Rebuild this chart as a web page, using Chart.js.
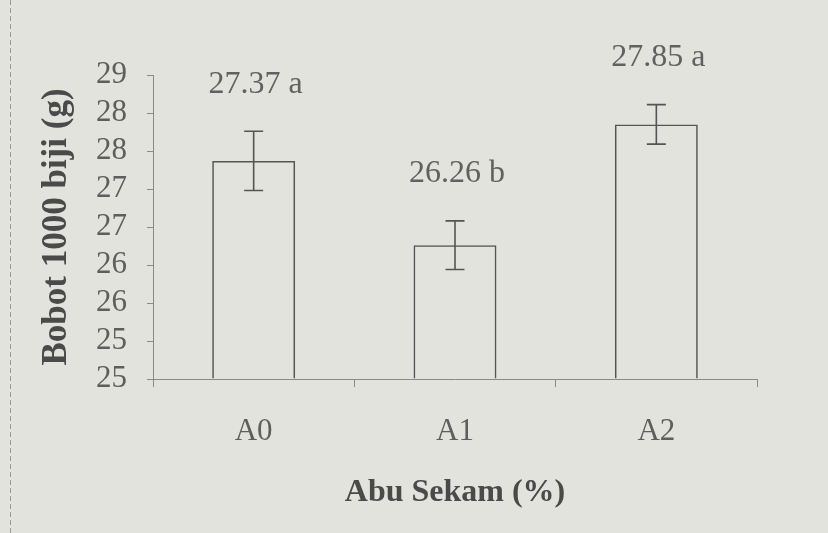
<!DOCTYPE html>
<html>
<head>
<meta charset="utf-8">
<script src="https://cdn.jsdelivr.net/npm/chart.js@4/dist/chart.umd.min.js"></script>
<style>
  html, body { margin: 0; padding: 0; background: #e3e3de; }
  #wrap { width: 828px; height: 533px; position: relative; }
</style>
</head>
<body>
<div id="wrap"><canvas id="c" width="828" height="533"></canvas></div>
<script>
const categories = ['A0', 'A1', 'A2'];
const bobotValues = [27.37, 26.26, 27.85];
const errorValues = [0.39, 0.32, 0.26];
const valueLabels = ['27.37 a', '26.26 b', '27.85 a'];
const yTickLabels = ['25', '25', '26', '26', '27', '27', '28', '28', '29'];
const yMin = 24.5, yMax = 28.5, yStep = 0.5;

const serif = '"Liberation Serif", "Times New Roman", serif';

const pageBorder = {
  id: 'pageBorder',
  beforeDraw(chart) {
    const ctx = chart.ctx;
    ctx.save();
    ctx.fillStyle = '#e3e3de';
    ctx.fillRect(0, 0, chart.width, chart.height);
    ctx.strokeStyle = '#9a9a96';
    ctx.lineWidth = 1;
    ctx.setLineDash([5, 3]);
    ctx.beginPath();
    ctx.moveTo(10.5, 0);
    ctx.lineTo(10.5, chart.height);
    ctx.stroke();
    ctx.restore();
  }
};

const errorBarsAndLabels = {
  id: 'errorBarsAndLabels',
  afterDatasetsDraw(chart) {
    const ctx = chart.ctx;
    const meta = chart.getDatasetMeta(0);
    const y = chart.scales.y;
    ctx.save();
    ctx.strokeStyle = '#545454';
    ctx.lineWidth = 1.6;
    meta.data.forEach((bar, i) => {
      const v = bobotValues[i], e = errorValues[i];
      const top = y.getPixelForValue(v + e);
      const bot = y.getPixelForValue(v - e);
      const x = bar.x;
      const cap = 9.5;
      ctx.beginPath();
      ctx.moveTo(x, top); ctx.lineTo(x, bot);
      ctx.moveTo(x - cap, top); ctx.lineTo(x + cap, top);
      ctx.moveTo(x - cap, bot); ctx.lineTo(x + cap, bot);
      ctx.stroke();
      ctx.fillStyle = '#616161';
      ctx.font = '32px ' + serif;
      ctx.textAlign = 'center';
      ctx.textBaseline = 'middle';
      ctx.fillText(valueLabels[i], x + 2, top - 47);
    });
    ctx.restore();
  }
};

new Chart(document.getElementById('c'), {
  type: 'bar',
  data: {
    labels: categories,
    datasets: [{
      data: bobotValues,
      base: yMin,
      backgroundColor: 'rgba(0,0,0,0)',
      borderColor: '#555555',
      borderWidth: 1.6,
      barPercentage: 0.412,
      categoryPercentage: 1.0
    }]
  },
  options: {
    responsive: false,
    animation: false,
    events: [],
    layout: { padding: { top: 75, right: 71, bottom: 0, left: 0 } },
    plugins: { legend: { display: false }, tooltip: { enabled: false } },
    scales: {
      x: {
        offset: true,
        afterFit(s) { s.height = 154; },
        grid: { offset: true, drawOnChartArea: false, drawTicks: true, tickLength: 8, color: '#8a8a86', lineWidth: 1 },
        border: { display: true, color: '#8a8a86', width: 1, dash: [4, 2] },
        ticks: { color: '#5e5e5e', padding: 26, font: { family: serif, size: 31 } },
        title: {
          display: true,
          text: 'Abu Sekam (%)',
          color: '#4a4a4a',
          font: { family: serif, size: 32, weight: 'bold' },
          padding: { top: 0, bottom: 21 }
        }
      },
      y: {
        min: yMin,
        max: yMax,
        afterFit(s) { s.width = 153; },
        afterBuildTicks(s) {
          s.ticks = yTickLabels.map((_, i) => ({ value: yMin + i * yStep }));
        },
        grid: { drawOnChartArea: false, drawTicks: true, tickLength: 6, color: '#8a8a86', lineWidth: 1 },
        border: { display: true, color: '#8a8a86', width: 1, dash: [4, 2] },
        ticks: {
          autoSkip: false,
          color: '#5e5e5e',
          padding: 20,
          font: { family: serif, size: 31 },
          callback: (v, i) => yTickLabels[i]
        },
        title: {
          display: true,
          text: 'Bobot 1000 biji (g)',
          color: '#4a4a4a',
          font: { family: serif, size: 35, weight: 'bold' },
          padding: { top: 36, bottom: 0 }
        }
      }
    }
  },
  plugins: [pageBorder, errorBarsAndLabels]
});
</script>
</body>
</html>
